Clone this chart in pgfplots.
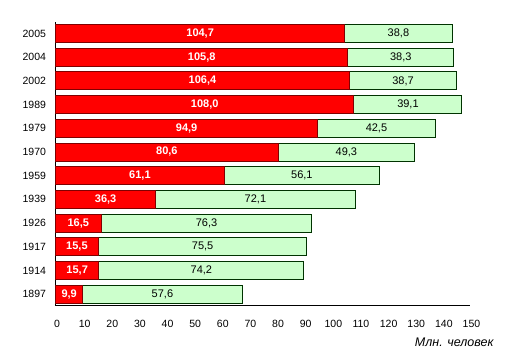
\documentclass[border=0pt]{standalone}
\usepackage{pgfplots}
\pgfplotsset{compat=1.18}
\usepackage{pgfplotstable}
\usepackage{fontspec}
\setmainfont{Liberation Sans}
\definecolor{urb}{HTML}{FF0000}
\definecolor{urbedge}{HTML}{800000}
\definecolor{rur}{HTML}{CCFFCC}
\definecolor{ruredge}{HTML}{003300}
\pgfplotstableread{
y u r
0 9.9 57.6
1 15.7 74.2
2 15.5 75.5
3 16.5 76.3
4 36.3 72.1
5 61.1 56.1
6 80.6 49.3
7 94.9 42.5
8 108.0 39.1
9 106.4 38.7
10 105.8 38.3
11 104.7 38.8
}\data
\begin{document}
\begin{tikzpicture}[x=1pt,y=1pt]
\useasboundingbox (0,0) rectangle (512,361);
\pgfplotsset{
  common/.style={
    at={(55.5pt,55pt)}, anchor=south west,
    scale only axis, width=414.5pt, height=284.3pt,
    xmin=0, xmax=150, ymin=-0.5, ymax=11.5,
    font=\fontsize{10.5}{12}\selectfont,
    /pgf/number format/assume math mode=true,
  }
}
\begin{axis}[common,
  xbar stacked, bar width=18pt,
  axis x line*=bottom, axis y line*=left,
  axis line style={black, line width=1pt, -},
  xtick={0,10,...,150}, major tick length=0pt,
  ytick={0,...,11},
  yticklabels={1897,1914,1917,1926,1939,1959,1970,1979,1989,2002,2004,2005},
  xticklabel style={yshift=-11pt, xshift=1.5pt},
  yticklabel style={xshift=-6pt},
  clip=false,
]
\addplot[fill=urb, draw=urbedge, line width=1pt] table[x=u, y=y] {\data};
\addplot[fill=rur, draw=ruredge, line width=1pt] table[x=r, y=y] {\data};
\end{axis}
\begin{axis}[common, hide axis, clip=false,
  nodes near coords, point meta=explicit,
  nodes near coords align={center},
  /pgf/number format/.cd, fixed, fixed zerofill, precision=1, use comma,
]
\addplot[draw=none, mark=none, only marks,
  every node near coord/.append style={text=white, font=\fontsize{11}{12}\selectfont\bfseries, anchor=center}]
  table[x expr=\thisrow{u}/2, y=y, meta=u] {\data};
\addplot[draw=none, mark=none, only marks,
  every node near coord/.append style={text=black, font=\fontsize{11}{12}\selectfont, anchor=center}]
  table[x expr=\thisrow{u}+\thisrow{r}/2, y=y, meta=r] {\data};
\end{axis}
\node[anchor=east, font=\fontsize{12.5}{14}\selectfont\itshape] at (497,19) {Млн. человек};
\end{tikzpicture}
\end{document}
